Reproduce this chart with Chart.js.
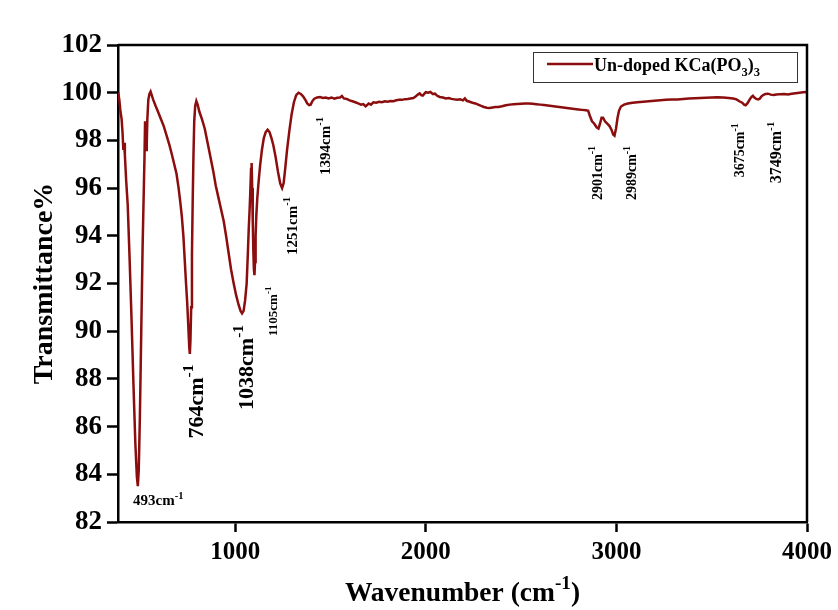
<!DOCTYPE html>
<html lang="en">
<head>
    <meta charset="UTF-8">
    <title>FTIR - Un-doped KCa(PO3)3</title>
    <script src="https://cdn.jsdelivr.net/npm/chart.js"></script>
    <style>
        html, body { margin: 0; padding: 0; background: #fff; }
        .chart-box { width: 838px; height: 610px; }
    </style>
</head>
<body>
    <div class="chart-box">
        <canvas id="ftirChart" width="838" height="610"></canvas>
    </div>

    <script>
        // spectrum
        const wavenumber = [
            386, 392, 398, 404, 409, 413, 417, 421, 428, 436, 446, 456, 466, 476, 484, 489, 494, 500, 507, 514,
            520, 524, 527, 530, 533, 536, 539, 544, 550, 556, 562, 570, 582, 595, 610, 625, 640, 655, 668, 680,
            692, 703, 712, 720, 728, 735, 742, 748, 754, 759, 762, 765, 769, 773, 777, 781, 785, 790, 796, 803,
            812, 825, 840, 855, 870, 885, 898, 912, 926, 940, 952, 965, 978, 992, 1005, 1018, 1028, 1036, 1044, 1052,
            1060, 1066, 1071, 1075, 1079, 1083, 1086, 1089, 1092, 1095, 1098, 1101, 1104, 1107, 1111, 1116, 1122, 1130, 1140, 1150,
            1160, 1170, 1180, 1190, 1200, 1212, 1224, 1236, 1246, 1254, 1262, 1272, 1284, 1296, 1308, 1320, 1332, 1344, 1356, 1368,
            1378, 1388, 1396, 1405, 1415, 1430, 1445, 1460, 1475, 1490, 1505, 1520, 1535, 1550, 1560, 1570, 1585, 1600, 1615, 1630,
            1645, 1660, 1672, 1684, 1692, 1700, 1712, 1725, 1740, 1755, 1770, 1785, 1800, 1815, 1830, 1845, 1860, 1875, 1890, 1905,
            1920, 1935, 1948, 1960, 1968, 1976, 1984, 1992, 2000, 2012, 2024, 2036, 2048, 2060, 2073, 2090, 2105, 2120, 2135, 2150,
            2165, 2180, 2195, 2205, 2215, 2230, 2245, 2260, 2275, 2290, 2305, 2320, 2335, 2350, 2365, 2380, 2400, 2420, 2440, 2460,
            2480, 2500, 2520, 2540, 2560, 2580, 2600, 2620, 2640, 2660, 2680, 2700, 2720, 2740, 2760, 2780, 2800, 2820, 2840, 2852,
            2862, 2872, 2884, 2896, 2906, 2914, 2922, 2930, 2940, 2952, 2964, 2974, 2983, 2990, 2998, 3006, 3014, 3024, 3040, 3060,
            3085, 3110, 3140, 3170, 3200, 3230, 3260, 3290, 3320, 3350, 3380, 3410, 3440, 3470, 3500, 3530, 3560, 3590, 3612, 3630,
            3645, 3660, 3670, 3678, 3688, 3698, 3708, 3716, 3724, 3734, 3744, 3752, 3760, 3770, 3782, 3795, 3810, 3825, 3840, 3860,
            3880, 3900, 3920, 3940, 3960, 3980, 4000
        ];
        const transmittance = [
            100.0, 99.7, 99.2, 98.9, 98.3, 97.6, 97.9, 97.4, 96.3, 95.3, 93.0, 90.5, 87.8, 85.3, 83.9, 83.5, 84.2, 86.5, 90.0, 93.5,
            95.8, 97.3, 98.8, 98.4, 97.6, 97.9, 98.9, 99.7, 99.95, 100.05, 99.9, 99.7, 99.45, 99.2, 98.9, 98.6, 98.2, 97.8, 97.4, 97.0,
            96.6, 96.0, 95.4, 94.8, 94.0, 93.0, 92.0, 91.2, 90.2, 89.3, 89.05, 89.6, 91.0, 93.2, 95.5, 97.4, 98.8, 99.45, 99.65, 99.5,
            99.2, 98.9, 98.5, 97.9, 97.3, 96.7, 96.1, 95.6, 95.1, 94.6, 94.0, 93.3, 92.6, 92.0, 91.5, 91.1, 90.85, 90.75, 90.85, 91.3,
            92.0, 93.2, 94.3, 95.0, 95.8, 96.8, 97.05, 96.0, 94.6, 93.4, 92.6, 92.35, 92.9, 94.0, 94.9, 95.6, 96.2, 96.9, 97.6, 98.1,
            98.35, 98.45, 98.35, 98.1, 97.8, 97.3, 96.7, 96.2, 96.0, 96.2, 96.8, 97.6, 98.4, 99.1, 99.6, 99.9, 100.0, 99.95, 99.85, 99.7,
            99.55, 99.48, 99.5, 99.65, 99.75, 99.8, 99.82, 99.78, 99.8, 99.76, 99.8, 99.75, 99.79, 99.8, 99.86, 99.76, 99.74, 99.68, 99.64, 99.6,
            99.55, 99.5, 99.52, 99.43, 99.48, 99.55, 99.5, 99.6, 99.58, 99.62, 99.6, 99.64, 99.62, 99.65, 99.64, 99.68, 99.7, 99.7, 99.73, 99.74,
            99.76, 99.78, 99.85, 99.93, 99.97, 99.9, 99.88, 99.95, 100.02, 100.0, 100.03, 99.95, 99.96, 99.87, 99.82, 99.8, 99.76, 99.78, 99.74, 99.72,
            99.7, 99.72, 99.68, 99.76, 99.66, 99.62, 99.58, 99.55, 99.5, 99.45, 99.4, 99.37, 99.36, 99.38, 99.4, 99.4, 99.43, 99.47, 99.5, 99.52,
            99.53, 99.54, 99.55, 99.55, 99.54, 99.52, 99.5, 99.48, 99.46, 99.44, 99.42, 99.4, 99.38, 99.36, 99.34, 99.32, 99.3, 99.28, 99.26, 99.24,
            99.0, 98.8, 98.7, 98.55, 98.5, 98.7, 98.95, 98.95, 98.8, 98.7, 98.6, 98.45, 98.25, 98.2, 98.5, 98.95, 99.25, 99.42, 99.5, 99.55,
            99.58, 99.6, 99.62, 99.64, 99.66, 99.68, 99.7, 99.71, 99.72, 99.74, 99.76, 99.77, 99.78, 99.79, 99.8, 99.81, 99.8, 99.78, 99.76, 99.72,
            99.64, 99.58, 99.5, 99.47, 99.56, 99.7, 99.82, 99.87, 99.8, 99.74, 99.72, 99.75, 99.84, 99.9, 99.95, 99.96, 99.92, 99.9, 99.92, 99.94,
            99.95, 99.93, 99.96, 99.98, 100.0, 100.02, 100.03
        ];
        const xTicks = [1000, 2000, 3000, 4000];
        const yTicks = [82, 84, 86, 88, 90, 92, 94, 96, 98, 100, 102];
        const peakLabels = ['493', '764', '1038', '1105', '1251', '1394', '2901', '2989', '3675', '3749'];
        const seriesName = 'Un-doped KCa(PO3)3';

        // where each peak label sits (data coords of the text start) and how big it is
        const peakLabelPos = [
            { x: 464, y: 82.7, size: 15, vertical: false },
            { x: 831, y: 85.5, size: 22, vertical: true },
            { x: 1093, y: 86.7, size: 22, vertical: true },
            { x: 1219, y: 89.8, size: 13, vertical: true },
            { x: 1324, y: 93.2, size: 15, vertical: true },
            { x: 1496, y: 96.55, size: 15, vertical: true },
            { x: 2922, y: 95.5, size: 14, vertical: true },
            { x: 3105, y: 95.5, size: 14, vertical: true },
            { x: 3671, y: 96.45, size: 14, vertical: true },
            { x: 3865, y: 96.2, size: 16, vertical: true }
        ];

        const FONT = '"Liberation Serif", "Times New Roman", serif';
        const LINE_COLOR = '#8b0d0d';

        // text with a raised or lowered small part, left aligned on the baseline
        function drawPieces(ctx, pieces, x, y, size) {
            let cx = x;
            pieces.forEach(p => {
                const s = p.small ? size * 0.7 : size;
                ctx.font = 'bold ' + s + 'px ' + FONT;
                const dy = p.sup ? -size * 0.45 : (p.sub ? size * 0.25 : 0);
                ctx.fillText(p.t, cx, y + dy);
                cx += ctx.measureText(p.t).width;
            });
            return cx - x;
        }

        function piecesWidth(ctx, pieces, size) {
            let w = 0;
            pieces.forEach(p => {
                ctx.font = 'bold ' + (p.small ? size * 0.7 : size) + 'px ' + FONT;
                w += ctx.measureText(p.t).width;
            });
            return w;
        }

        const decorations = {
            id: 'decorations',
            afterDraw(chart) {
                const ctx = chart.ctx;
                const a = chart.chartArea;
                const xs = chart.scales.x, ys = chart.scales.y;
                ctx.save();

                // top and right frame
                ctx.strokeStyle = '#000';
                ctx.lineWidth = 2.5;
                ctx.beginPath();
                ctx.moveTo(a.left, a.top);
                ctx.lineTo(a.right, a.top);
                ctx.lineTo(a.right, a.bottom);
                ctx.stroke();

                ctx.fillStyle = '#000';
                ctx.textBaseline = 'alphabetic';
                ctx.textAlign = 'left';

                // axis titles
                const yTitle = [{ t: 'Transmittance%' }];
                ctx.save();
                ctx.translate(52, (a.top + a.bottom) / 2);
                ctx.rotate(-Math.PI / 2);
                drawPieces(ctx, yTitle, -piecesWidth(ctx, yTitle, 28) / 2, 0, 28);
                ctx.restore();

                const xTitle = [{ t: 'Wavenumber (cm' }, { t: '-1', small: true, sup: true }, { t: ')' }];
                const xw = piecesWidth(ctx, xTitle, 27.5);
                drawPieces(ctx, xTitle, (a.left + a.right) / 2 - xw / 2, 601, 27.5);

                // peak labels
                peakLabels.forEach((lab, i) => {
                    const p = peakLabelPos[i];
                    const px = xs.getPixelForValue(p.x);
                    const py = ys.getPixelForValue(p.y);
                    const pieces = [{ t: lab + 'cm' }, { t: '-1', small: true, sup: true }];
                    ctx.save();
                    ctx.translate(px, py);
                    if (p.vertical) ctx.rotate(-Math.PI / 2);
                    drawPieces(ctx, pieces, 0, 0, p.size);
                    ctx.restore();
                });

                // legend box
                const lx = 533, ly = 52, lw = 264, lh = 30;
                ctx.fillStyle = '#fff';
                ctx.fillRect(lx, ly, lw, lh);
                ctx.strokeStyle = '#333';
                ctx.lineWidth = 1;
                ctx.strokeRect(lx + 0.5, ly + 0.5, lw, lh);
                ctx.strokeStyle = LINE_COLOR;
                ctx.lineWidth = 2.5;
                ctx.beginPath();
                ctx.moveTo(lx + 14, ly + 12);
                ctx.lineTo(lx + 60, ly + 12);
                ctx.stroke();
                ctx.fillStyle = '#000';
                const m = seriesName.match(/^(.*\(PO)(\d)\)(\d)$/);
                drawPieces(ctx, [
                    { t: m[1] }, { t: m[2], small: true, sub: true }, { t: ')' }, { t: m[3], small: true, sub: true }
                ], lx + 61, ly + 19, 18);

                ctx.restore();
            }
        };

        const points = wavenumber.map((w, i) => ({ x: w, y: transmittance[i] }));

        new Chart(document.getElementById('ftirChart'), {
            type: 'line',
            data: {
                datasets: [{
                    label: seriesName,
                    data: points,
                    borderColor: LINE_COLOR,
                    borderWidth: 2.5,
                    pointRadius: 0,
                    tension: 0,
                    fill: false
                }]
            },
            options: {
                responsive: false,
                animation: false,
                layout: { padding: { top: 45, right: 30, left: 0, bottom: 0 } },
                plugins: {
                    legend: { display: false },
                    tooltip: { enabled: false }
                },
                scales: {
                    x: {
                        type: 'linear',
                        min: 385,
                        max: 4000,
                        afterBuildTicks: s => { s.ticks = xTicks.map(v => ({ value: v })); },
                        afterFit: s => { s.height = 88; },
                        border: { display: true, color: '#000', width: 2.5 },
                        grid: { drawOnChartArea: false, drawTicks: true, tickLength: 10, tickColor: '#000', tickWidth: 2.5 },
                        ticks: {
                            color: '#000', padding: 6, maxRotation: 0,
                            callback: v => String(v),
                            font: { family: FONT, size: 25, weight: 'bold' }
                        }
                    },
                    y: {
                        min: 82,
                        max: 102,
                        afterBuildTicks: s => { s.ticks = yTicks.map(v => ({ value: v })); },
                        afterFit: s => { s.width = 118; },
                        border: { display: true, color: '#000', width: 2.5 },
                        grid: { drawOnChartArea: false, drawTicks: true, tickLength: 11, tickColor: '#000', tickWidth: 2.5 },
                        ticks: { color: '#000', padding: 5, font: { family: FONT, size: 27, weight: 'bold' } }
                    }
                }
            },
            plugins: [decorations]
        });
    </script>
</body>
</html>
